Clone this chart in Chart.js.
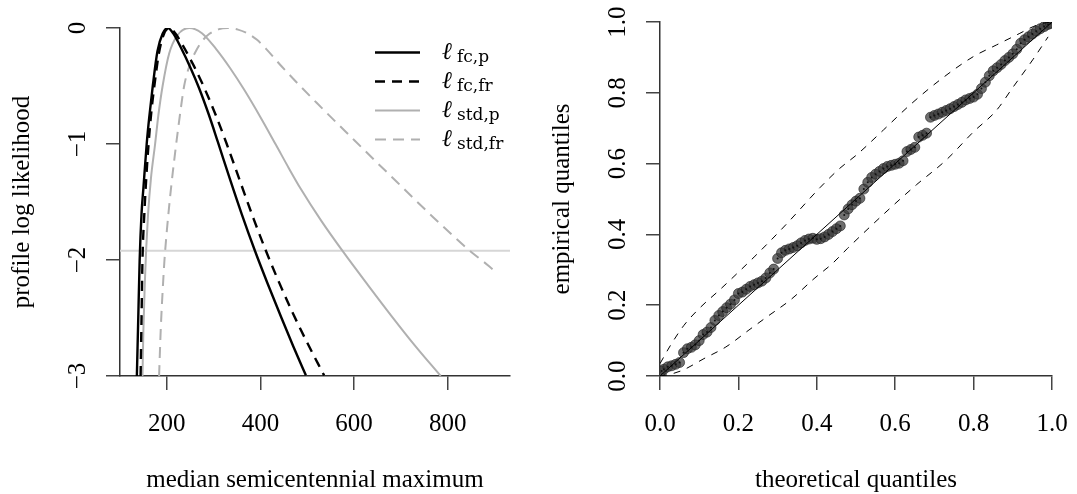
<!DOCTYPE html>
<html>
<head>
<meta charset="utf-8">
<script src="https://cdn.jsdelivr.net/npm/chart.js@4.4.1/dist/chart.umd.min.js"></script>
<style>
  body { margin: 0; background: #fff; }
  canvas { position: absolute; top: 0; }
  #profile { left: 0; }
  #qq { left: 540px; }
</style>
</head>
<body>
<canvas id="profile" width="540" height="494"></canvas>
<canvas id="qq" width="537" height="494"></canvas>
<script>
// profile log likelihood of the median semicentennial maximum
const fcpMedian = [136, 139, 142, 146, 150, 157, 163, 170, 180, 191, 202, 214, 230, 250, 269, 290, 309, 334, 360, 388, 415, 445, 470, 497];
const fcpLogLik = [-3, -2.5, -2, -1.6, -1.38, -1.0, -0.75, -0.5, -0.2, -0.05, 0, -0.048, -0.168, -0.338, -0.519, -0.75, -0.982, -1.292, -1.604, -1.918, -2.2, -2.5, -2.743, -2.994];

const fcfrMedian = [144, 146, 148, 152, 156, 161, 167, 174, 183, 193, 205, 218, 235, 258, 280, 305, 328, 359, 385, 411, 440, 470, 500, 536];
const fcfrLogLik = [-3, -2.5, -2, -1.6, -1.3, -1.0, -0.72, -0.48, -0.22, -0.06, 0, -0.046, -0.156, -0.329, -0.516, -0.756, -1.0, -1.35, -1.641, -1.914, -2.195, -2.465, -2.714, -2.995];

const stdpMedian = [148, 150, 153, 156, 160, 166, 175, 182, 191, 205, 223, 248, 275, 305, 335, 365, 400, 433, 460, 486, 530, 578, 630, 680, 730, 785];
const stdpLogLik = [-3, -2.6, -2.2, -1.9, -1.6, -1.3, -1.0, -0.75, -0.5, -0.22, -0.06, 0, -0.045, -0.18, -0.345, -0.531, -0.769, -1.007, -1.204, -1.386, -1.663, -1.937, -2.218, -2.483, -2.738, -3.0];

const stdfrMedian = [183.5, 187, 192, 195, 200, 209, 220, 228, 237, 248, 262, 276, 291, 310, 330, 352, 373, 392, 412, 445, 480, 520, 561, 600, 645, 691, 730, 770, 810, 847, 875, 896];
const stdfrLogLik = [-3, -2.6, -2.2, -2.0, -1.75, -1.38, -1.0, -0.75, -0.5, -0.33, -0.2, -0.11, -0.05, -0.012, 0, -0.014, -0.048, -0.1, -0.18, -0.33, -0.48, -0.645, -0.81, -0.965, -1.145, -1.325, -1.48, -1.635, -1.785, -1.92, -2.01, -2.08];

// 95% cutoff, -qchisq(0.95, 1) / 2
const cutoff = -1.92;

const medianTicks = [200, 400, 600, 800];
const medianTickLabels = ['200', '400', '600', '800'];
const loglikTicks = [0, -1, -2, -3];
const loglikTickLabels = ['0', '\u22121', '\u22122', '\u22123'];

// quantile-quantile plot
const theoretical = [0.004, 0.01, 0.02, 0.03, 0.04, 0.05, 0.06, 0.07, 0.08, 0.09, 0.10,
  0.11, 0.12, 0.13, 0.14, 0.15, 0.16, 0.17, 0.18, 0.19, 0.20,
  0.21, 0.22, 0.23, 0.24, 0.25, 0.26, 0.27, 0.28, 0.29, 0.30,
  0.31, 0.32, 0.33, 0.34, 0.35, 0.36, 0.37, 0.38, 0.39, 0.40,
  0.41, 0.42, 0.43, 0.44, 0.45, 0.46, 0.47, 0.48, 0.49, 0.50,
  0.51, 0.52, 0.53, 0.54, 0.55, 0.56, 0.57, 0.58, 0.59, 0.60,
  0.61, 0.62, 0.63, 0.64, 0.65, 0.66, 0.67, 0.68, 0.69, 0.70,
  0.71, 0.72, 0.73, 0.74, 0.75, 0.76, 0.77, 0.78, 0.79, 0.80,
  0.81, 0.82, 0.83, 0.84, 0.85, 0.86, 0.87, 0.88, 0.89, 0.90,
  0.91, 0.92, 0.93, 0.94, 0.95, 0.96, 0.97, 0.98, 0.99, 0.996];
const empirical = [0.014, 0.019, 0.026, 0.029, 0.033, 0.038, 0.066, 0.077, 0.081, 0.088, 0.100,
  0.117, 0.124, 0.137, 0.157, 0.171, 0.182, 0.193, 0.203, 0.215, 0.233,
  0.237, 0.245, 0.253, 0.258, 0.263, 0.268, 0.277, 0.291, 0.302, 0.332,
  0.348, 0.355, 0.359, 0.363, 0.368, 0.376, 0.383, 0.387, 0.389, 0.386,
  0.388, 0.393, 0.400, 0.408, 0.416, 0.424, 0.455, 0.472, 0.484, 0.494,
  0.502, 0.528, 0.547, 0.561, 0.570, 0.578, 0.586, 0.592, 0.595, 0.598,
  0.601, 0.608, 0.634, 0.640, 0.646, 0.675, 0.680, 0.686, 0.731, 0.736,
  0.740, 0.745, 0.750, 0.755, 0.761, 0.767, 0.773, 0.780, 0.784, 0.788,
  0.796, 0.812, 0.830, 0.848, 0.862, 0.871, 0.880, 0.891, 0.900, 0.910,
  0.923, 0.940, 0.950, 0.958, 0.966, 0.974, 0.981, 0.987, 0.993, 0.996];

const upperX = [0, 0.027, 0.061, 0.104, 0.151, 0.197, 0.24, 0.278, 0.325, 0.408, 0.459, 0.502, 0.57, 0.638, 0.714, 0.799, 0.858, 0.918, 0.952, 0.975, 1];
const upperY = [0.035, 0.087, 0.143, 0.195, 0.242, 0.29, 0.336, 0.378, 0.432, 0.532, 0.587, 0.625, 0.695, 0.766, 0.836, 0.902, 0.935, 0.968, 0.987, 0.996, 1];
const lowerX = [0, 0.03, 0.061, 0.112, 0.168, 0.227, 0.274, 0.334, 0.393, 0.44, 0.478, 0.587, 0.654, 0.73, 0.8, 0.858, 0.9, 0.952, 0.99];
const lowerY = [0, 0.006, 0.018, 0.049, 0.082, 0.13, 0.168, 0.216, 0.275, 0.318, 0.36, 0.474, 0.54, 0.61, 0.69, 0.75, 0.815, 0.895, 0.958];
const diagX = [0, 1];
const diagY = [0, 1];

const qqTicks = [0, 0.2, 0.4, 0.6, 0.8, 1];
const qqTickLabels = ['0.0', '0.2', '0.4', '0.6', '0.8', '1.0'];

const SERIF = "'Liberation Serif', 'DejaVu Serif', serif";
const GREY = '#b0b0b0';

function pts(xs, ys) {
  return xs.map((x, i) => ({ x: x, y: ys[i] }));
}

function curve(xs, ys, color, dash, width) {
  return {
    data: pts(xs, ys),
    showLine: true,
    borderColor: color,
    borderWidth: width,
    borderDash: dash,
    pointRadius: 0,
    cubicInterpolationMode: 'monotone'
  };
}

function axis(ticks, min, max, size, horizontal) {
  return {
    type: 'linear',
    min: min,
    max: max,
    afterBuildTicks: s => { s.ticks = ticks.map(v => ({ value: v })); },
    afterFit: s => { if (horizontal) s.height = size; else s.width = size; },
    ticks: { display: false },
    grid: { drawOnChartArea: false, drawTicks: true, tickLength: 14, color: '#444', lineWidth: 1.5 },
    border: { display: true, color: '#333', width: 1.5 }
  };
}

// tick labels and axis titles the way base graphics puts them
function axisText(cfg) {
  return {
    id: 'axisText',
    afterDraw(chart) {
      const { ctx, chartArea, scales } = chart;
      ctx.save();
      ctx.fillStyle = '#000';
      ctx.font = '25px ' + SERIF;
      ctx.textAlign = 'center';
      ctx.textBaseline = 'alphabetic';
      cfg.xTicks.forEach((v, i) => {
        ctx.fillText(cfg.xLabels[i], scales.x.getPixelForValue(v), 431);
      });
      cfg.yTicks.forEach((v, i) => {
        ctx.save();
        ctx.translate(chartArea.left - 35, scales.y.getPixelForValue(v));
        ctx.rotate(-Math.PI / 2);
        ctx.fillText(cfg.yLabels[i], 0, 0);
        ctx.restore();
      });
      ctx.fillText(cfg.xTitle, (chartArea.left + chartArea.right) / 2, 487);
      ctx.save();
      ctx.translate(29, (chartArea.top + chartArea.bottom) / 2);
      ctx.rotate(-Math.PI / 2);
      ctx.fillText(cfg.yTitle, 0, 0);
      ctx.restore();
      if (cfg.legend) cfg.legend(ctx);
      ctx.restore();
    }
  };
}

const legendItems = [
  { sub: 'fc,p', color: '#000', dash: [], width: 2.4 },
  { sub: 'fc,fr', color: '#000', dash: [10, 7], width: 2.4 },
  { sub: 'std,p', color: GREY, dash: [], width: 2 },
  { sub: 'std,fr', color: GREY, dash: [11, 7], width: 2 }
];

function drawLegend(ctx) {
  legendItems.forEach((it, i) => {
    const y = 52.5 + i * 29;
    ctx.save();
    ctx.strokeStyle = it.color;
    ctx.lineWidth = it.width;
    ctx.setLineDash(it.dash);
    ctx.beginPath();
    ctx.moveTo(375, y);
    ctx.lineTo(420, y);
    ctx.stroke();
    ctx.restore();
    ctx.textAlign = 'left';
    ctx.font = "italic 24px 'DejaVu Serif', serif";
    ctx.fillText('\u2113', 442, y + 6);
    ctx.font = "17px 'DejaVu Serif', serif";
    ctx.fillText(it.sub, 457, y + 9);
  });
}

new Chart(document.getElementById('profile'), {
  type: 'scatter',
  data: {
    datasets: [
      curve(fcpMedian, fcpLogLik, '#000', [], 2.4),
      curve(fcfrMedian, fcfrLogLik, '#000', [10, 7], 2.4),
      curve(stdpMedian, stdpLogLik, GREY, [], 2),
      curve(stdfrMedian, stdfrLogLik, GREY, [11, 7], 2),
      curve([100, 933], [cutoff, cutoff], '#d6d6d6', [], 2)
    ]
  },
  options: {
    responsive: false,
    animation: false,
    events: [],
    layout: { padding: { top: 28, right: 30, left: 0, bottom: 0 } },
    plugins: { legend: { display: false }, tooltip: { enabled: false } },
    scales: {
      x: axis(medianTicks, 100, 933, 118, true),
      y: axis(loglikTicks, -3, 0, 120, false)
    }
  },
  plugins: [axisText({
    xTicks: medianTicks, xLabels: medianTickLabels,
    yTicks: loglikTicks, yLabels: loglikTickLabels,
    xTitle: 'median semicentennial maximum',
    yTitle: 'profile log likelihood',
    legend: drawLegend
  })]
});

const qqLines = [
  curve(diagX, diagY, '#000', [], 1),
  curve(upperX, upperY, '#000', [7, 7], 1),
  curve(lowerX, lowerY, '#000', [7, 7], 1)
];
qqLines.forEach(d => { d.order = 0; });

new Chart(document.getElementById('qq'), {
  type: 'scatter',
  data: {
    datasets: qqLines.concat([
      {
        data: pts(theoretical, empirical),
        pointRadius: 1,
        pointBackgroundColor: '#111',
        pointBorderWidth: 0,
        order: 1
      },
      {
        data: pts(theoretical, empirical),
        pointRadius: 5,
        pointBackgroundColor: 'rgba(55,55,55,0.72)',
        pointBorderColor: 'rgba(30,30,30,0.6)',
        pointBorderWidth: 1,
        order: 2
      }
    ])
  },
  options: {
    responsive: false,
    animation: false,
    events: [],
    layout: { padding: { top: 22, right: 25, left: 0, bottom: 0 } },
    plugins: { legend: { display: false }, tooltip: { enabled: false } },
    scales: {
      x: axis(qqTicks, 0, 1, 118, true),
      y: axis(qqTicks, 0, 1, 120, false)
    }
  },
  plugins: [axisText({
    xTicks: qqTicks, xLabels: qqTickLabels,
    yTicks: qqTicks, yLabels: qqTickLabels,
    xTitle: 'theoretical quantiles',
    yTitle: 'empirical quantiles'
  })]
});
</script>
</body>
</html>
